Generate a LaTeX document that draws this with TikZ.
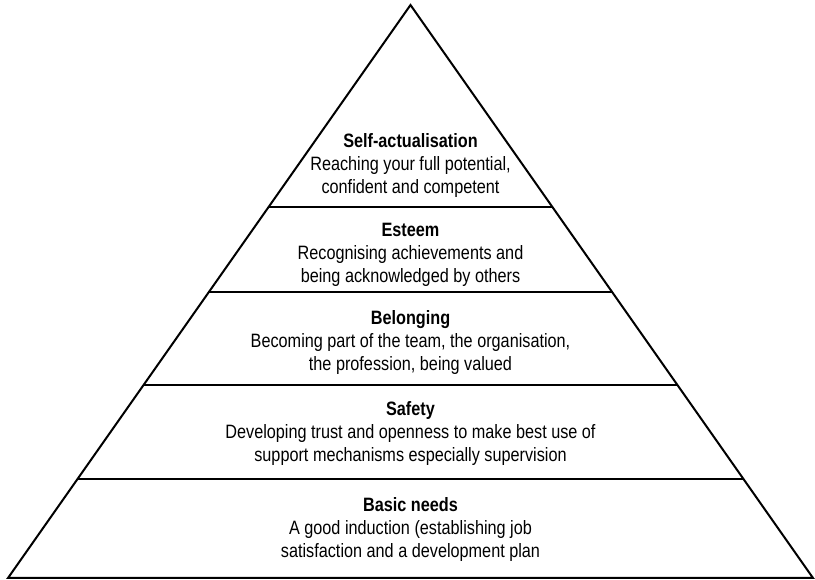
\documentclass[tikz,border=0pt]{standalone}
\usepackage{fontspec}
\setmainfont{Liberation Sans}[FakeStretch=0.84]
\usetikzlibrary{calc}
\begin{document}
\begin{tikzpicture}[x=0.75pt,y=-0.75pt,
  edge/.style={draw=black,line width=1.5pt,line join=miter},
  band/.style={draw=black,line width=1.5pt},
  levellabel/.style={align=center,inner sep=0pt,
    font=\fontsize{14.5}{17.25}\selectfont}]
  \useasboundingbox (0,0) rectangle (815,580);
  % pyramid corners
  \coordinate (A) at (410.5,5);
  \coordinate (L) at (8,578);
  \coordinate (R) at (813,578);
  \draw[edge] (A) -- (R) -- (L) -- cycle;
  % dividing lines between the levels
  \foreach \t/\n in {0.6475/a,0.4991/b,0.3368/c,0.1728/d}{
    \coordinate (l\n) at ($(L)!\t!(A)$);
    \coordinate (r\n) at ($(R)!\t!(A)$);
    \draw[band] (l\n) -- (r\n);
  }
  % level texts
  \node[levellabel] (self) at (410.5,165.5) {\textbf{Self-actualisation}\\Reaching your full potential,\\confident and competent};
  \node[levellabel] (esteem) at (410.5,254.5) {\textbf{Esteem}\\Recognising achievements and\\being acknowledged by others};
  \node[levellabel] (belong) at (410.5,342.5) {\textbf{Belonging}\\Becoming part of the team, the organisation,\\the profession, being valued};
  \node[levellabel] (safety) at (410.5,433.5) {\textbf{Safety}\\Developing trust and openness to make best use of\\support mechanisms especially supervision};
  \node[levellabel] (basic) at (410.5,530) {\textbf{Basic needs}\\A good induction (establishing job\\satisfaction and a development plan};
\end{tikzpicture}
\end{document}
